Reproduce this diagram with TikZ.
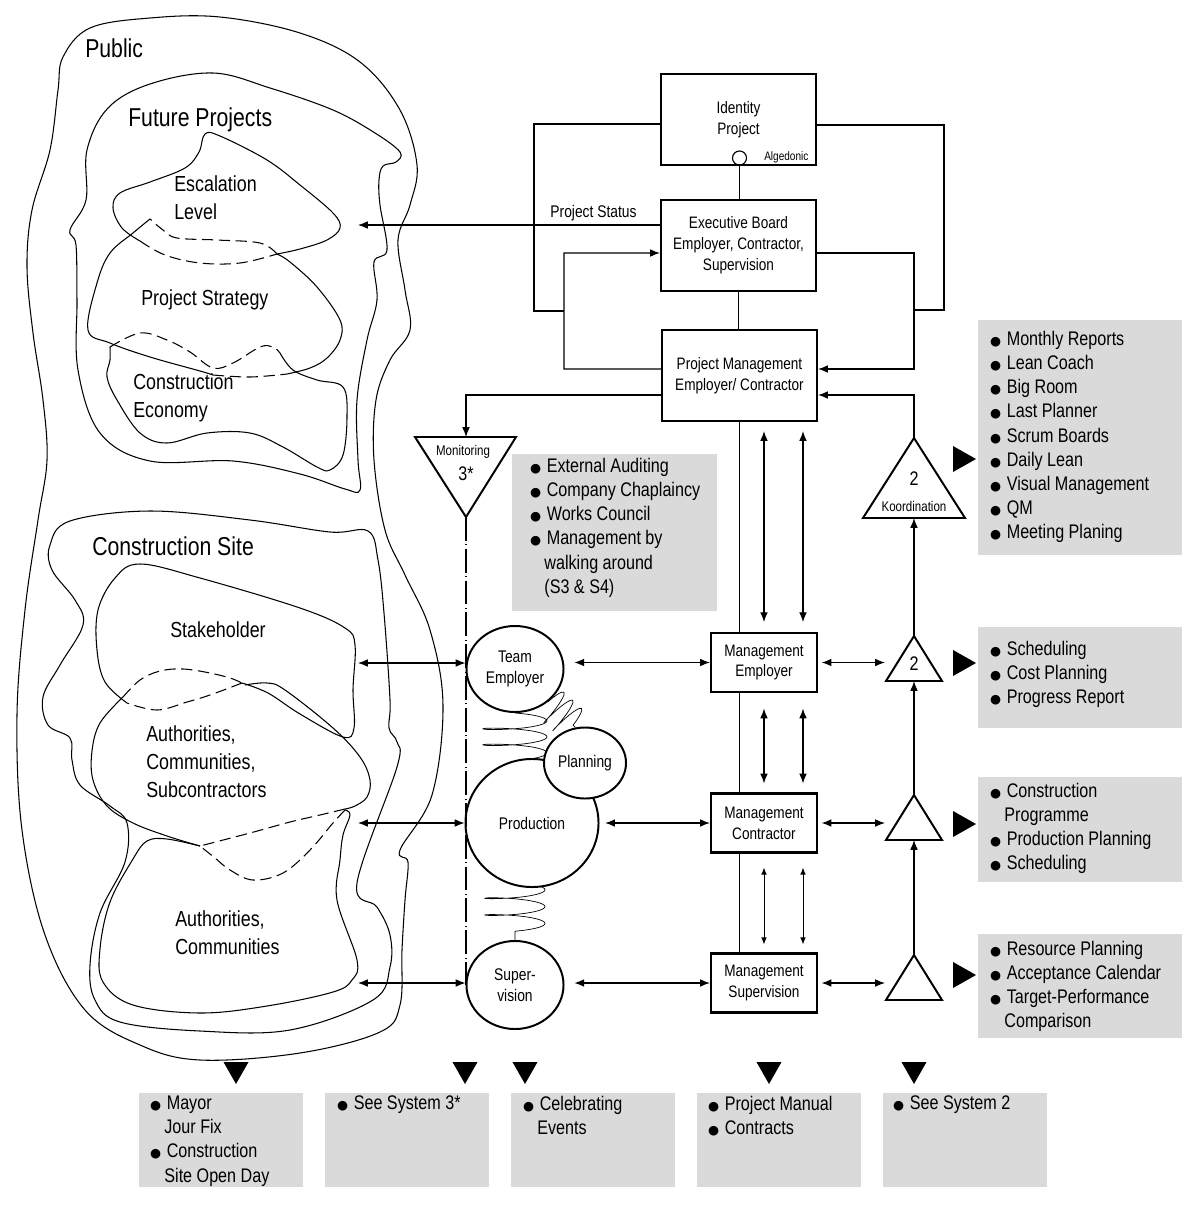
\documentclass[tikz,border=0pt]{standalone}
\usepackage{fontspec}
\setmainfont{Liberation Sans}[FakeStretch=0.82]
\newfontfamily\dejavu{DejaVu Sans}
\usepackage{xcolor}
\definecolor{panelgray}{RGB}{218, 218, 218}
\usepackage{tikz}
\usetikzlibrary{calc, positioning, shapes.geometric, arrows.meta, fit, backgrounds, decorations.pathmorphing}
\newcommand{\bul}{\makebox[0.42cm][l]{\dejavu\fontsize{9}{9}\selectfont ●}}
\newcommand{\ind}{\hspace*{0.36cm}}

\begin{document}
\begin{tikzpicture}[x=0.025cm, y=-0.025cm,
  box/.style={rectangle, draw, line width=1.5pt, minimum width=3.875cm, minimum height=2.275cm, font=\fontsize{11.8}{14.8}\selectfont, align=center},
  mbox/.style={box, minimum width=2.65cm, minimum height=1.475cm},
  unit/.style={ellipse, draw, fill=white, line width=1.4pt, inner sep=0pt, font=\fontsize{12}{14.8}\selectfont, align=center},
  panel/.style={fill=panelgray, inner sep=0pt},
  items/.style={anchor=north west, inner sep=0pt, align=left, font=\fontsize{14}{17.2}\selectfont},
  title/.style={anchor=west, inner sep=0pt, font=\fontsize{18.4}{22}\selectfont},
  area/.style={anchor=west, inner sep=0pt, align=left, font=\fontsize{15.5}{19.9}\selectfont},
  blob/.style={line width=0.75pt},
  blobdash/.style={line width=0.75pt, dash pattern=on 8pt off 4pt},
  link/.style={line width=0.85pt},
  msg/.style={link, -{Latex[length=7pt, width=5.5pt]}},
  dbl/.style={link, {Latex[length=7pt, width=5.5pt]}-{Latex[length=7pt, width=5.5pt]}},
  tri/.style={line width=1.4pt, line join=miter},
  springy/.style n args={3}{line width=0.5pt, decorate, decoration={coil, amplitude=#1, segment length=#2, aspect=#3}}
]
  \useasboundingbox (0,0) rectangle (1200,1206);

  % left side: public and its areas
  \draw[blob] plot[smooth cycle, tension=0.6] coordinates {(63,57) (90,28) (150,18) (220,17) (300,33) (360,62) (400,110) (417,165) (410,205) (398,240) (405,290) (410,330) (390,360) (376,400) (374,460) (385,530) (405,575) (430,630) (443,705) (432,795) (400,850) (408,862) (405,900) (402,950) (400,1005) (380,1032) (300,1053) (200,1060) (140,1045) (85,1010) (45,935) (22,830) (17,715) (25,610) (38,520) (47,460) (43,400) (33,333) (27,267) (32,210) (50,150) (58,90)};
  \draw[blob] plot[smooth cycle, tension=0.6] coordinates {(213,73) (270,88) (333,110) (375,133) (400,152) (396,162) (383,166) (379,180) (380,205) (387,250) (374,262) (377,300) (367,340) (357,400) (358,460) (360,490) (345,489) (300,474) (233,461) (150,461) (100,433) (78,370) (77,300) (76,245) (70,230) (86,200) (87,150) (108,108) (150,84)};
  \draw[blob] plot[smooth, tension=0.6] coordinates {(277,254) (300,249) (327,240) (340,228) (333,213) (300,185) (267,160) (220,136) (205,134) (199,152) (185,168) (150,182) (120,193) (113,208) (122,228) (140,241)};
  \draw[blobdash] plot[smooth, tension=0.6] coordinates {(140,241) (165,255) (200,263) (240,263) (277,254)};
  \draw[blob] plot[smooth, tension=0.6] coordinates {(150,219) (133,233) (110,253) (97,283) (88,330) (110,343) (150,357) (200,371) (213,375)};
  \draw[blobdash] plot[smooth, tension=0.6] coordinates {(213,375) (250,377) (287,374)};
  \draw[blob] plot[smooth, tension=0.6] coordinates {(287,374) (310,368) (327,358) (340,340) (340,320) (317,287) (290,262) (277,254)};
  \draw[blobdash] plot[smooth, tension=0.6] coordinates {(277,254) (260,243) (217,240) (177,238) (163,230) (150,219)};
  \draw[blobdash] plot[smooth, tension=0.6] coordinates {(110,347) (140,333) (167,340) (190,352) (213,368) (233,363) (260,347) (273,347) (280,353)};
  \draw[blob] plot[smooth, tension=0.6] coordinates {(280,353) (293,370) (317,380) (343,387) (347,417) (343,455) (330,470) (317,467) (283,447) (250,433) (207,433) (167,443) (140,433) (117,400) (107,377) (110,360) (110,347)};

  \draw[blob] plot[smooth cycle, tension=0.6] coordinates {(50,545) (70,521) (150,511) (250,520) (330,532) (368,531) (378,560) (384,613) (390,700) (389,728) (397,742) (397,767) (357,883) (377,907) (390,935) (390,967) (373,1000) (290,1030) (200,1031) (120,1022) (95,1000) (90,965) (100,913) (125,862) (127,823) (110,806) (80,785) (72,760) (70,738) (48,725) (43,697) (60,665) (83,625) (75,600) (52,570)};
  \draw[blob] plot[smooth, tension=0.6] coordinates {(127,703) (105,682) (97,650) (98,610) (115,578) (140,564) (200,578) (300,608) (345,628) (355,645) (353,690) (354,728) (343,737) (300,714) (268,693) (242,683)};
  \draw[blobdash] plot[smooth, tension=0.6] coordinates {(242,683) (210,695) (187,702) (157,710) (127,703)};
  \draw[blobdash] plot[smooth, tension=0.6] coordinates {(123,697) (140,680) (160,671) (183,669) (210,673) (233,679) (245,685)};
  \draw[blob] plot[smooth, tension=0.6] coordinates {(245,685) (267,683) (285,690) (333,728) (360,757) (370,780) (367,797) (355,806) (345,809)};
  \draw[blobdash] plot[smooth, tension=0.6] coordinates {(345,809) (320,815) (290,822) (250,833) (200,846)};
  \draw[blob] plot[smooth, tension=0.6] coordinates {(200,846) (167,836) (133,823) (107,806) (93,780) (92,751) (100,723) (123,697)};
  \draw[blob] plot[smooth, tension=0.6] coordinates {(200,846) (167,839) (147,841) (133,859) (110,902) (100,949) (103,982) (133,1005) (200,1013) (267,1006) (333,992) (352,980) (357,960) (337,900) (340,860) (343,835) (350,815) (345,810)};
  \draw[blobdash] plot[smooth, tension=0.6] coordinates {(345,810) (333,823) (310,850) (283,873) (253,880) (230,870) (215,858) (200,846)};

  \node[title] (pub) at (85,48) {Public};
  \node[title] (fut) at (128,120) {Future Projects};
  \node[title] (site) at (92,546) {Construction Site};
  \node[area] (esc) at (174,198) {Escalation\\Level};
  \node[area] (strat) at (141,300) {Project Strategy};
  \node[area] (econ) at (133,398) {Construction\\Economy};
  \node[area] (stake) at (170,630) {Stakeholder};
  \node[area] (auth3) at (146,762) {Authorities,\\Communities,\\Subcontractors};
  \node[area] (auth2) at (175,933) {Authorities,\\Communities};
  \coordinate (in0) at (358,225);
  \coordinate (in1) at (358,663);
  \coordinate (in2) at (358,823);
  \coordinate (in3) at (358,983);

  % panels
  \node[panel, fit={(978,320) (1182,555)}] (p1) {};
  \node[panel, fit={(978,627) (1182,728)}] (p2) {};
  \node[panel, fit={(978,777) (1182,882)}] (p3) {};
  \node[panel, fit={(978,934) (1182,1038)}] (p4) {};
  \node[panel, fit={(512,454) (717,611)}] (p0) {};
  \node[panel, fit={(139,1093) (303,1187)}] (b1) {};
  \node[panel, fit={(325,1093) (489,1187)}] (b2) {};
  \node[panel, fit={(511,1093) (675,1187)}] (b3) {};
  \node[panel, fit={(697,1093) (861,1187)}] (b4) {};
  \node[panel, fit={(883,1093) (1047,1187)}] (b5) {};

  \node[items] (l1) at ($(p1.north west)+(12,11)$) {\bul Monthly Reports\\\bul Lean Coach\\\bul Big Room\\\bul Last Planner\\\bul Scrum Boards\\\bul Daily Lean\\\bul Visual Management\\\bul QM\\\bul Meeting Planing};
  \node[items] (l2) at ($(p2.north west)+(12,14)$) {\bul Scheduling\\\bul Cost Planning\\\bul Progress Report};
  \node[items] (l3) at ($(p3.north west)+(12,6)$) {\bul Construction\\\ind Programme\\\bul Production Planning\\\bul Scheduling};
  \node[items] (l4) at ($(p4.north west)+(12,7)$) {\bul Resource Planning\\\bul Acceptance Calendar\\\bul Target-Performance\\\ind Comparison};
  \node[items] (l0) at ($(p0.north west)+(18,4)$) {\bul External Auditing\\\bul Company Chaplaincy\\\bul Works Council\\\bul Management by\\\ind walking around\\\ind (S3 \& S4)};
  \node[items] (m1) at ($(b1.north west)+(11,3)$) {\bul Mayor\\\ind Jour Fix\\\bul Construction\\\ind Site Open Day};
  \node[items] (m2) at ($(b2.north west)+(12,3)$) {\bul See System 3*};
  \node[items] (m3) at ($(b3.north west)+(12,3)$) {\bul Celebrating\\\ind Events};
  \node[items] (m4) at ($(b4.north west)+(11,3)$) {\bul Project Manual\\\bul Contracts};
  \node[items] (m5) at ($(b5.north west)+(10,3)$) {\bul See System 2};

  \foreach \y in {459,663,824,975}
    \fill (953,\y-13) -- (976,\y) -- (953,\y+13) -- cycle;
  \foreach \x in {236,465,525,769,914}
    \fill (\x-12.5,1062) -- (\x+12.5,1062) -- (\x,1084) -- cycle;

  % boxes
  \node[box] (idp) at (738.5,119.5) {Identity\\Project};
  \node[box] (exb) at (738.5,245.5) {Executive Board\\Employer, Contractor,\\Supervision};
  \node[box] (pm) at (739.5,375.5) {Project Management\\Employer/ Contractor};
  \node[draw, circle, line width=0.8pt, minimum size=0.35cm, inner sep=0pt] (alg) at (739.5,158) {};
  \node[anchor=west, inner sep=0pt, font=\fontsize{8.7}{10}\selectfont] (algl) at (764,157) {Algedonic};
  \node[mbox] (me) at (764,662.5) {Management\\Employer};
  \node[mbox] (mc) at (764,823) {Management\\Contractor};
  \node[mbox] (ms) at (764,983) {Management\\Supervision};

  \node[unit, minimum width=2.425cm, minimum height=2.15cm] (te) at (515,669) {Team\\Employer};
  \node[unit, minimum width=3.325cm, minimum height=3.2cm] (prod) at (532,823) {Production};
  \node[unit, minimum width=2.05cm, minimum height=1.775cm] (plan) at (585,763) {Planning};
  \node[unit, minimum width=2.425cm, minimum height=2.2cm] (sup) at (515,985) {Super-\\vision};

  \begin{scope}[on background layer]
    \draw[springy={0.8cm}{0.4cm}{0.12}] (te.south) -- ($(te.south |- prod.north)+(0,4)$);
    \draw[springy={0.45cm}{0.3cm}{0.12}] (te.-45) -- (plan.105);
    \draw[springy={0.75cm}{0.42cm}{0.12}] ($(sup.north |- prod.south)+(0,-6)$) -- (sup.north);
  \end{scope}

  % triangles
  \draw[tri] (415,437) -- (516,437) -- (466,517) coordinate (mona) -- cycle;
  \coordinate (mont) at (466,437);
  \node[font=\fontsize{10}{12}\selectfont] (monl) at (463,452) {Monitoring};
  \node[font=\fontsize{14}{16}\selectfont] (mon3) at (466,474) {3*};
  \draw[tri] (914,438) coordinate (kt) -- (965,518) -- (863,518) -- cycle;
  \coordinate (kb) at (914,518);
  \node[font=\fontsize{14}{16}\selectfont] (k2) at (914,479) {2};
  \node[font=\fontsize{10}{12}\selectfont] (kname) at (914,506) {Koordination};
  \foreach \n/\y in {2/636, 3/795, 4/955} {
    \draw[tri] (914,\y) coordinate (tt\n) -- (942,\y+45) -- (886,\y+45) -- cycle;
    \coordinate (tb\n) at (914,\y+45);
    \coordinate (tw\n) at (885,\y+28);
  }
  \node[font=\fontsize{14}{16}\selectfont] (t2n) at (914,664) {2};

  % connections
  \draw[link] (alg.south) -- (alg.south |- exb.north);
  \draw[link] (exb.south) -- (exb.south |- pm.north);
  \draw[link] (pm.south) -- (pm.south |- me.north);
  \draw[link] (pm.south |- me.south) -- (pm.south |- mc.north);
  \draw[link] (pm.south |- mc.south) -- (pm.south |- ms.north);

  \draw[link] ($(idp.west)+(0,4.5)$) -| (534,311) -- (564,311);
  \draw[msg] ($(pm.west)+(0,-6.5)$) -| (564,253) -- ($(exb.west)+(0,7.5)$);
  \draw[msg] ($(exb.west)+(0,-20.5)$) -- node[pos=0.22, above, inner sep=2.5pt, font=\fontsize{12}{14}\selectfont] {Project Status} (in0);
  \draw[msg] ($(pm.west)+(0,19.5)$) -| (mont);
  \draw[link] ($(idp.east)+(0,5.5)$) -| (944,310) -- (914,310);
  \draw[msg] ($(exb.east)+(0,7.5)$) -| (914,369) -- ($(pm.east)+(0,-6.5)$);
  \draw[msg] (kt) |- ($(pm.east)+(0,19.5)$);

  \foreach \dx in {0,39} {
    \draw[dbl, shorten <=7pt, shorten >=6.4pt] ($(me.north)+(\dx,0)$) -- ($(me.north |- pm.south)+(\dx,0)$);
    \draw[dbl, shorten <=6.4pt, shorten >=11pt] ($(mc.north)+(\dx,0)$) -- ($(me.south)+(\dx,0)$);
    \draw[link, {Latex[length=5pt, width=4pt]}-{Latex[length=5pt, width=4pt]}, line width=0.6pt, shorten <=5.7pt, shorten >=10pt] ($(ms.north)+(\dx,0)$) -- ($(mc.south)+(\dx,0)$);
  }

  \draw[line width=0.8pt, dash pattern=on 17pt off 2.5pt on 0.6pt off 2.5pt] (mona) -- (mona |- sup.west);

  \draw[dbl] (in1) -- (in1 -| te.west);
  \draw[dbl] (in2) -- (in2 -| prod.west);
  \draw[dbl] (in3) -- (in3 -| sup.west);
  \draw[dbl, shorten <=7pt] (te.east |- me.west) -- (me.west);
  \draw[dbl, shorten <=4pt] (prod.east |- mc.west) -- (mc.west);
  \draw[dbl, shorten <=7pt] (sup.east |- ms.west) -- (ms.west);
  \draw[dbl, shorten <=2.5pt] (me.east) -- (me.east -| tw2);
  \draw[dbl, shorten <=2.5pt] (mc.east) -- (mc.east -| tw3);
  \draw[dbl, shorten <=2.5pt] (ms.east) -- (ms.east -| tw4);

  \draw[msg] (tt2) -- (kb);
  \draw[msg] (tt3) -- (tb2);
  \draw[msg] (tt4) -- (tb3);
\end{tikzpicture}
\end{document}
